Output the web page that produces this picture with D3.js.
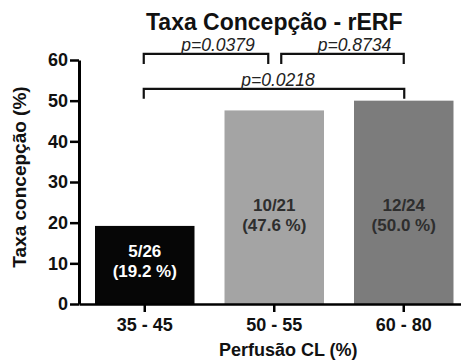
<!DOCTYPE html>
<html>
<head>
<meta charset="utf-8">
<script src="https://cdn.jsdelivr.net/npm/d3@7"></script>
<style>
  html, body { margin: 0; padding: 0; background: #fff; }
  svg { display: block; }
  text { font-family: "Liberation Sans", Arial, Helvetica, sans-serif; }
</style>
</head>
<body>
<svg id="chart" width="461" height="363"></svg>
<script>
// Conception rate by corpus luteum perfusion group
const categories = ["35 - 45", "50 - 55", "60 - 80"];
const rates = [19.2, 47.6, 50.0];
const counts = ["5/26", "10/21", "12/24"];
const rateLabels = ["(19.2 %)", "(47.6 %)", "(50.0 %)"];
const barColors = ["#060606", "#a4a4a4", "#7c7c7c"];
const labelColors = ["#ffffff", "#2e2e2e", "#2e2e2e"];
const yTicks = [0, 10, 20, 30, 40, 50, 60];

// Pairwise comparisons: from index, to index, p-value text, bracket level
const compFrom = [0, 1, 0];
const compTo = [1, 2, 2];
const compText = ["p=0.0379", "p=0.8734", "p=0.0218"];
const compLevel = [61.5, 61.5, 52.9];

const title = "Taxa Concepção - rERF";
const xTitle = "Perfusão CL (%)";
const yTitle = "Taxa concepção (%)";

const svg = d3.select("#chart");

const axisX0 = 79;
const y = d3.scaleLinear().domain([0, 60]).range([304, 60]);
const x = d3.scaleBand()
  .domain(categories)
  .range([axisX0, 469.5])
  .paddingInner(0.2317)
  .paddingOuter(0.1236);

const bw = x.bandwidth();
const cx = c => x(c) + bw / 2;

// Bars
svg.append("g").selectAll("rect")
  .data(categories)
  .join("rect")
  .attr("x", d => x(d))
  .attr("width", bw)
  .attr("y", (d, i) => y(rates[i]))
  .attr("height", (d, i) => y(0) - y(rates[i]))
  .attr("fill", (d, i) => barColors[i]);

// Count / percentage labels inside bars
const labelCap = 21;
const lbl = svg.append("g")
  .attr("font-weight", "bold")
  .attr("font-size", 17)
  .attr("text-anchor", "middle");
categories.forEach((c, i) => {
  const cy = y(Math.min(rates[i] / 2, labelCap));
  lbl.append("text").attr("x", cx(c)).attr("y", cy - 8)
    .attr("fill", labelColors[i]).text(counts[i]);
  lbl.append("text").attr("x", cx(c)).attr("y", cy + 12)
    .attr("fill", labelColors[i]).text(rateLabels[i]);
});

// Y axis
const yAxis = svg.append("g")
  .attr("transform", `translate(${axisX0},0)`)
  .call(d3.axisLeft(y).tickValues(yTicks).tickSize(9).tickPadding(2).tickSizeOuter(0));
yAxis.select(".domain").attr("stroke", "#000").attr("stroke-width", 3);
yAxis.selectAll(".tick line").attr("stroke", "#000").attr("stroke-width", 2.5);
yAxis.selectAll(".tick text")
  .attr("font-family", "'Liberation Sans', Arial, sans-serif")
  .attr("font-size", 18).attr("font-weight", "bold").attr("fill", "#111");

// X axis
const xAxis = svg.append("g")
  .attr("transform", `translate(0,${y(0)})`)
  .call(d3.axisBottom(x).tickSize(8).tickPadding(6).tickSizeOuter(0));
xAxis.select(".domain").attr("stroke", "#000").attr("stroke-width", 2.5);
xAxis.selectAll(".tick line").attr("stroke", "#000").attr("stroke-width", 2.5);
xAxis.selectAll(".tick text")
  .attr("font-family", "'Liberation Sans', Arial, sans-serif")
  .attr("font-size", 18).attr("font-weight", "bold").attr("fill", "#111");

// Significance brackets
const gapL = [-1, 7, -1];
const gapR = [-6, 0, 0.5];
const textShift = [12, 12, 4];
const drop = 10;
const br = svg.append("g");
compFrom.forEach((f, i) => {
  const x1 = cx(categories[f]) + gapL[i];
  const x2 = cx(categories[compTo[i]]) + gapR[i];
  const yy = y(compLevel[i]);
  br.append("path")
    .attr("d", `M${x1},${yy + drop}V${yy}H${x2}V${yy + drop}`)
    .attr("fill", "none").attr("stroke", "#111").attr("stroke-width", 2.2);
  br.append("text")
    .attr("x", (x1 + x2) / 2 + textShift[i])
    .attr("y", yy - 3)
    .attr("text-anchor", "middle")
    .attr("font-size", 17.5)
    .attr("font-style", "italic")
    .attr("fill", "#222")
    .text(compText[i]);
});

// Titles
const plotMid = (x(categories[0]) + x(categories[categories.length - 1]) + bw) / 2;
svg.append("text")
  .attr("x", plotMid).attr("y", 30)
  .attr("text-anchor", "middle")
  .attr("font-size", 23).attr("font-weight", "bold").attr("fill", "#111")
  .text(title);

svg.append("text")
  .attr("x", plotMid + 14).attr("y", 356)
  .attr("text-anchor", "middle")
  .attr("font-size", 18).attr("font-weight", "bold").attr("fill", "#111")
  .text(xTitle);

svg.append("text")
  .attr("transform", `translate(25.5,${(y(0) + y(60)) / 2 - 5}) rotate(-90)`)
  .attr("text-anchor", "middle")
  .attr("font-size", 19).attr("font-weight", "bold").attr("fill", "#111")
  .text(yTitle);
</script>
</body>
</html>
